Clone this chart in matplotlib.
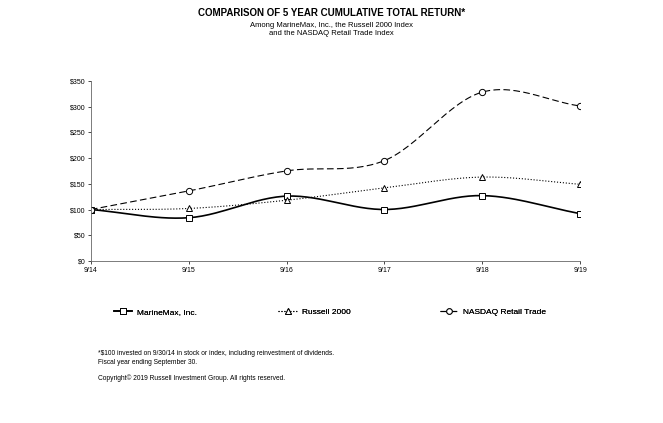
import numpy as np
import matplotlib
matplotlib.use("Agg")
import matplotlib.pyplot as plt

plt.rcParams['font.family'] = ['Liberation Sans', 'DejaVu Sans']

years = ["9/14", "9/15", "9/16", "9/17", "9/18", "9/19"]
marinemax = [100, 84, 126, 100, 127, 92]
russell = [100, 102, 118, 142, 163, 149]
nasdaq = [100, 136, 175, 195, 328, 301]


def smooth(y, n=30):
    # Catmull-Rom curve through the points, like Excel's smoothed line
    y = np.asarray(y, float)
    p = np.concatenate([[2 * y[0] - y[1]], y, [2 * y[-1] - y[-2]]])
    xs, ys = [], []
    for i in range(len(y) - 1):
        t = np.linspace(0, 1, n)
        p0, p1, p2, p3 = p[i], p[i + 1], p[i + 2], p[i + 3]
        ys.append(0.5 * (2 * p1 + (-p0 + p2) * t + (2 * p0 - 5 * p1 + 4 * p2 - p3) * t ** 2
                         + (-p0 + 3 * p1 - 3 * p2 + p3) * t ** 3))
        xs.append(i + t)
    return np.concatenate(xs), np.concatenate(ys)


fig = plt.figure(figsize=(6.63, 4.23), dpi=100)
ax = fig.add_axes([0.137, 0.383, 0.738, 0.426])
x = np.arange(len(years))

series = [
    (marinemax, "MarineMax, Inc.", "-", "s", 1.2),
    (russell, "Russell 2000", ":", "^", 0.8),
    (nasdaq, "NASDAQ Retail Trade", (0, (6, 3)), "o", 0.8),
]
legend_x = [0.172, 0.420, 0.663]
for (vals, label, ls, mk, lw), lx in zip(series, legend_x):
    sx, sy = smooth(vals)
    ax.plot(sx, sy, color="black", ls=ls, lw=lw)
    ax.plot(x, vals, ls="none", marker=mk, ms=4.5, mfc="white", mec="black", mew=0.7)
    h, = ax.plot([], [], color="black", ls=ls, lw=lw, marker=mk, ms=4, mfc="white", mec="black", mew=0.7)
    lg = fig.legend([h], [label], loc="center left", bbox_to_anchor=(lx, 0.262),
                    frameon=False, fontsize=6, handlelength=2.2, handletextpad=0.6,
                    borderaxespad=0, borderpad=0)
    fig.add_artist(lg)

ax.set_xlim(0, len(years) - 1)
ax.set_ylim(0, 350)
ax.set_xticks(x)
ax.set_xticklabels(years, fontsize=5)
ax.set_yticks(range(0, 351, 50))
ax.set_yticklabels([f"${v}" for v in range(0, 351, 50)], fontsize=5)
ax.tick_params(length=2, width=0.5, pad=2)
for s in ["top", "right"]:
    ax.spines[s].set_visible(False)
for s in ["left", "bottom"]:
    ax.spines[s].set_linewidth(0.6)
    ax.spines[s].set_color("#666666")

fig.text(0.5, 0.962, "COMPARISON OF 5 YEAR CUMULATIVE TOTAL RETURN*", ha="center",
         fontsize=7, fontweight="bold")
fig.text(0.5, 0.937, "Among MarineMax, Inc., the Russell 2000 Index", ha="center", fontsize=5.5)
fig.text(0.5, 0.917, "and the NASDAQ Retail Trade Index", ha="center", fontsize=5.5)

fig.text(0.148, 0.160, "*$100 invested on 9/30/14 in stock or index, including reinvestment of dividends.",
         fontsize=4.8)
fig.text(0.148, 0.140, "Fiscal year ending September 30.", fontsize=4.8)
fig.text(0.148, 0.102, "Copyright\u00a9 2019 Russell Investment Group. All rights reserved.", fontsize=4.8)

fig.savefig("out.png", dpi=100)
